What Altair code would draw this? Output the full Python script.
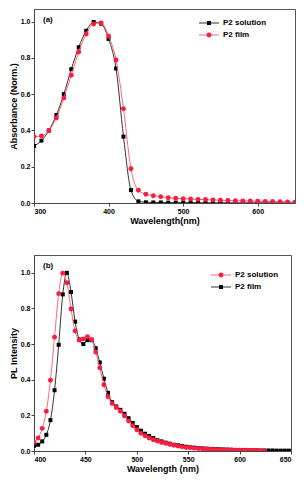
import altair as alt
import pandas as pd

# ---------------- data ----------------
abs_wl = list(range(300, 651, 10))
abs_solution = [0.315, 0.344, 0.40, 0.485, 0.60, 0.738, 0.859, 0.95, 0.998, 0.989,
                0.905, 0.742, 0.366, 0.071, 0.009, 0.004, 0.003, 0.003, 0.002, 0.002,
                0.002, 0.002, 0.002, 0.001, 0.001, 0.001, 0.001, 0.001, 0.001, 0.001,
                0.001, 0.001, 0.001, 0.001, 0.001, 0.001]
abs_film = [0.366, 0.37, 0.40, 0.469, 0.579, 0.705, 0.833, 0.932, 0.987, 0.993,
            0.921, 0.789, 0.52, 0.189, 0.07, 0.048, 0.04, 0.035, 0.029, 0.026,
            0.024, 0.022, 0.02, 0.019, 0.017, 0.015, 0.014, 0.013, 0.012, 0.011,
            0.010, 0.009, 0.008, 0.007, 0.006, 0.005]

pl_wl_solution = list(range(400, 625, 4))
pl_solution = [0.048, 0.073, 0.127, 0.223, 0.397, 0.639, 0.883, 0.998, 0.944, 0.797,
               0.674, 0.622, 0.629, 0.642, 0.626, 0.555, 0.467, 0.372, 0.305, 0.266,
               0.244, 0.223, 0.197, 0.168, 0.142, 0.119, 0.099, 0.086, 0.073, 0.063,
               0.056, 0.048, 0.043, 0.037, 0.032, 0.028, 0.024, 0.020, 0.019, 0.016,
               0.014, 0.012, 0.011, 0.010, 0.009, 0.008, 0.007, 0.006, 0.006, 0.005,
               0.005, 0.004, 0.004, 0.003, 0.003, 0.002, 0.002]
pl_wl_film = list(range(400, 649, 4))
pl_film = [0.03, 0.035, 0.054, 0.091, 0.173, 0.341, 0.596, 0.879, 1.0, 0.892,
           0.726, 0.626, 0.6, 0.622, 0.622, 0.577, 0.497, 0.406, 0.326, 0.274,
           0.25, 0.231, 0.209, 0.184, 0.158, 0.134, 0.114, 0.097, 0.084, 0.073,
           0.061, 0.054, 0.047, 0.041, 0.035, 0.032, 0.028, 0.024, 0.021, 0.019,
           0.017, 0.015, 0.013, 0.012, 0.011, 0.010, 0.009, 0.008, 0.007, 0.006,
           0.006, 0.005, 0.005, 0.004, 0.004, 0.003, 0.003, 0.003, 0.003, 0.002,
           0.002, 0.002, 0.002]

abs_ticks = [300, 400, 500, 600]
pl_ticks = [400, 450, 500, 550, 600, 650]
y_ticks = [0.0, 0.2, 0.4, 0.6, 0.8, 1.0]

BLACK = "#000000"
BLACK_LINE = "#333333"
RED = "#ff1a40"
RED_LINE = "#ff6680"
FONT = "Liberation Sans"

W_A, W_B = 261, 257
H_A, H_B = 194, 196


def series(wl, vals, name):
    return pd.DataFrame({"wl": wl, "v": vals, "s": name})


def panel(dfs, xdom, xticks, xtitle, ytitle, ymax, width, height, tag, legend_items, leg_dx, leg_y0):
    x = alt.X("wl:Q", scale=alt.Scale(domain=xdom, nice=False, zero=False),
              axis=alt.Axis(values=xticks, title=xtitle, format="d"))
    y = alt.Y("v:Q", scale=alt.Scale(domain=[0, ymax], nice=False),
              axis=alt.Axis(values=y_ticks, title=ytitle, format=".1f"))
    layers = []
    for df, kind in dfs:
        if kind == "black":
            layers.append(alt.Chart(df).mark_line(interpolate="monotone", color=BLACK_LINE,
                                                  strokeWidth=1, clip=True).encode(x=x, y=y))
            layers.append(alt.Chart(df).mark_point(shape="square", filled=True, color=BLACK,
                                                   size=16, opacity=1, clip=True).encode(x=x, y=y))
        else:
            layers.append(alt.Chart(df).mark_line(interpolate="monotone", color=RED_LINE,
                                                  strokeWidth=1, clip=True).encode(x=x, y=y))
            layers.append(alt.Chart(df).mark_point(shape="circle", filled=True, color=RED,
                                                   size=24, opacity=1, clip=True).encode(x=x, y=y))
    # panel tag
    layers.append(alt.Chart(pd.DataFrame({"t": [tag]})).mark_text(
        font=FONT, fontWeight="bold", fontSize=8, align="left", baseline="middle", color="black"
    ).encode(text="t:N", x=alt.value(9), y=alt.value(11)))
    # legend
    for i, (label, kind) in enumerate(legend_items):
        yy = leg_y0 + i * 12
        col_line = BLACK_LINE if kind == "black" else RED_LINE
        col_pt = BLACK if kind == "black" else RED
        shp = "square" if kind == "black" else "circle"
        sz = 16 if kind == "black" else 24
        d = pd.DataFrame({"t": [label]})
        layers.append(alt.Chart(d).mark_rule(color=col_line, strokeWidth=1).encode(
            x=alt.value(width - leg_dx), x2=alt.value(width - leg_dx + 20), y=alt.value(yy)))
        layers.append(alt.Chart(d).mark_point(shape=shp, filled=True, color=col_pt, size=sz,
                                              opacity=1).encode(
            x=alt.value(width - leg_dx + 10), y=alt.value(yy)))
        layers.append(alt.Chart(d).mark_text(font=FONT, fontWeight="bold", fontSize=8,
                                             align="left", baseline="middle", color="black").encode(
            text="t:N", x=alt.value(width - leg_dx + 24), y=alt.value(yy)))
    return alt.layer(*layers).properties(width=width, height=height)


top = panel([(series(abs_wl, abs_solution, "P2 solution"), "black"),
             (series(abs_wl, abs_film, "P2 film"), "red")],
            [300, 650], abs_ticks, "Wavelength(nm)", "Absorbance (Norm.)", 1.07, W_A, H_A, "(a)",
            [("P2 solution", "black"), ("P2 film", "red")], 96, 14)

bottom = panel([(series(pl_wl_film, pl_film, "P2 film"), "black"),
                (series(pl_wl_solution, pl_solution, "P2 solution"), "red")],
               [400, 650], pl_ticks, "Wavelength (nm)", "PL Intensity", 1.1, W_B, H_B, "(b)",
               [("P2 solution", "red"), ("P2 film", "black")], 80, 20)

chart = alt.vconcat(top, bottom, spacing=28).properties(
    padding={"left": 0, "top": 0, "right": 0, "bottom": 0}
).configure_view(
    stroke="#555555", strokeWidth=1
).configure_axis(
    grid=False, domainColor="#444444", tickColor="#444444", tickSize=3,
    labelFont=FONT, labelFontWeight="bold", labelFontSize=7, labelColor="black",
    labelPadding=1, titleFont=FONT, titleFontWeight="bold", titleFontSize=9,
    titleColor="black", titlePadding=2
)

chart.save("out.html", embed_options={"renderer": "svg", "actions": False})
